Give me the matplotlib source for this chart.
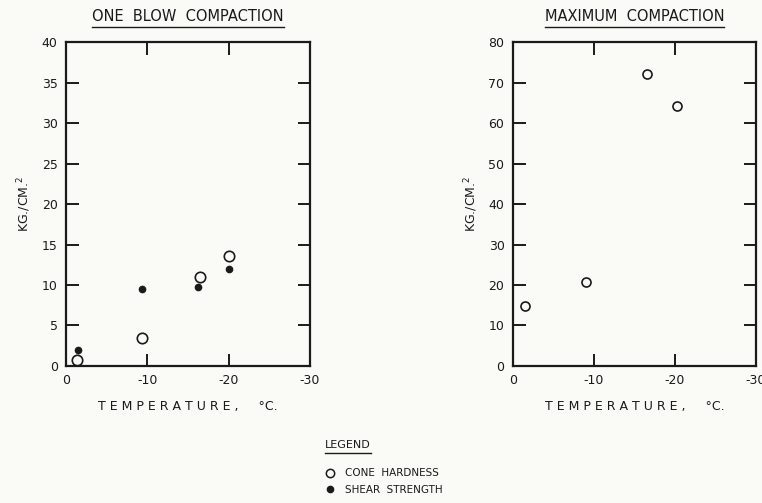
import matplotlib
matplotlib.use("Agg")
import matplotlib.pyplot as plt
from matplotlib.lines import Line2D

# data
one_blow_cone_temp = [-1.4, -9.3, -16.5, -20.0]
one_blow_cone = [0.8, 3.5, 11.0, 13.6]
one_blow_shear_temp = [-1.5, -9.3, -16.2, -20.0]
one_blow_shear = [2.0, 9.5, 9.8, 12.0]

max_cone_temp = [-1.5, -9.0, -16.5, -20.3]
max_cone = [14.8, 20.8, 72.2, 64.3]

x_ticks = [0, -10, -20, -30]
x_labels = ["0", "-10", "-20", "-30"]
left_yticks = [0, 5, 10, 15, 20, 25, 30, 35, 40]
right_yticks = [0, 10, 20, 30, 40, 50, 60, 70, 80]

plt.rcParams["axes.unicode_minus"] = False
plt.rcParams["font.family"] = "DejaVu Sans"

ink = "#1a1a1a"
bg = "#fafaf7"

fig = plt.figure(figsize=(7.62, 5.03), dpi=100, facecolor=bg)
ax1 = fig.add_axes([0.0866, 0.2724, 0.320, 0.644], facecolor=bg)
ax2 = fig.add_axes([0.673, 0.2724, 0.319, 0.644], facecolor=bg)


def style(ax, yticks, title):
    ax.set_xlim(0, -30)
    ax.set_ylim(yticks[0], yticks[-1])
    ax.set_xticks(x_ticks)
    ax.set_xticklabels(x_labels)
    ax.set_yticks(yticks)
    ax.tick_params(direction="in", length=9, width=1.4, color=ink,
                   labelsize=9, labelcolor=ink, top=True, right=True, pad=6)
    for s in ax.spines.values():
        s.set_linewidth(1.6)
        s.set_color(ink)
    ax.set_xlabel("T E M P E R A T U R E ,     \u00b0C.", fontsize=9,
                  color=ink, labelpad=9)
    ax.set_ylabel("KG./CM.$^2$", fontsize=9, color=ink, labelpad=6)
    ax.set_title(title, fontsize=10.5, color=ink, pad=15)


style(ax1, left_yticks, "ONE  BLOW  COMPACTION")
style(ax2, right_yticks, "MAXIMUM  COMPACTION")

ax1.plot(one_blow_shear_temp, one_blow_shear, "o", ms=4.5, color=ink,
         clip_on=False)
ax1.plot(one_blow_cone_temp, one_blow_cone, "o", ms=7.5, mfc="none",
         mec=ink, mew=1.2, clip_on=False)
ax2.plot(max_cone_temp, max_cone, "o", ms=6.5, mfc="none", mec=ink,
         mew=1.2, clip_on=False)

handles = [
    Line2D([], [], ls="none", marker="o", ms=6, mfc="none", mec=ink, mew=1.1),
    Line2D([], [], ls="none", marker="o", ms=4.5, color=ink),
]
leg = fig.legend(handles, ["CONE  HARDNESS", "SHEAR  STRENGTH"],
                 loc="upper left", bbox_to_anchor=(0.419, 1 - 463 / 503),
                 frameon=False, fontsize=7.5, handletextpad=1.0,
                 labelspacing=0.65, handlelength=1.0, borderpad=0)
for t in leg.get_texts():
    t.set_color(ink)
leg_title = fig.text(325 / 762, 1 - 450 / 503, "LEGEND", fontsize=8,
                     color=ink, ha="left", va="bottom")

# underline the titles
fig.canvas.draw()
r = fig.canvas.get_renderer()
for t in [ax1.title, ax2.title, leg_title]:
    bb = t.get_window_extent(r).transformed(fig.transFigure.inverted())
    y = bb.y0 - 0.006
    fig.add_artist(Line2D([bb.x0, bb.x1], [y, y], color=ink, lw=1.0))

fig.savefig("out.png", dpi=100, facecolor=bg)
